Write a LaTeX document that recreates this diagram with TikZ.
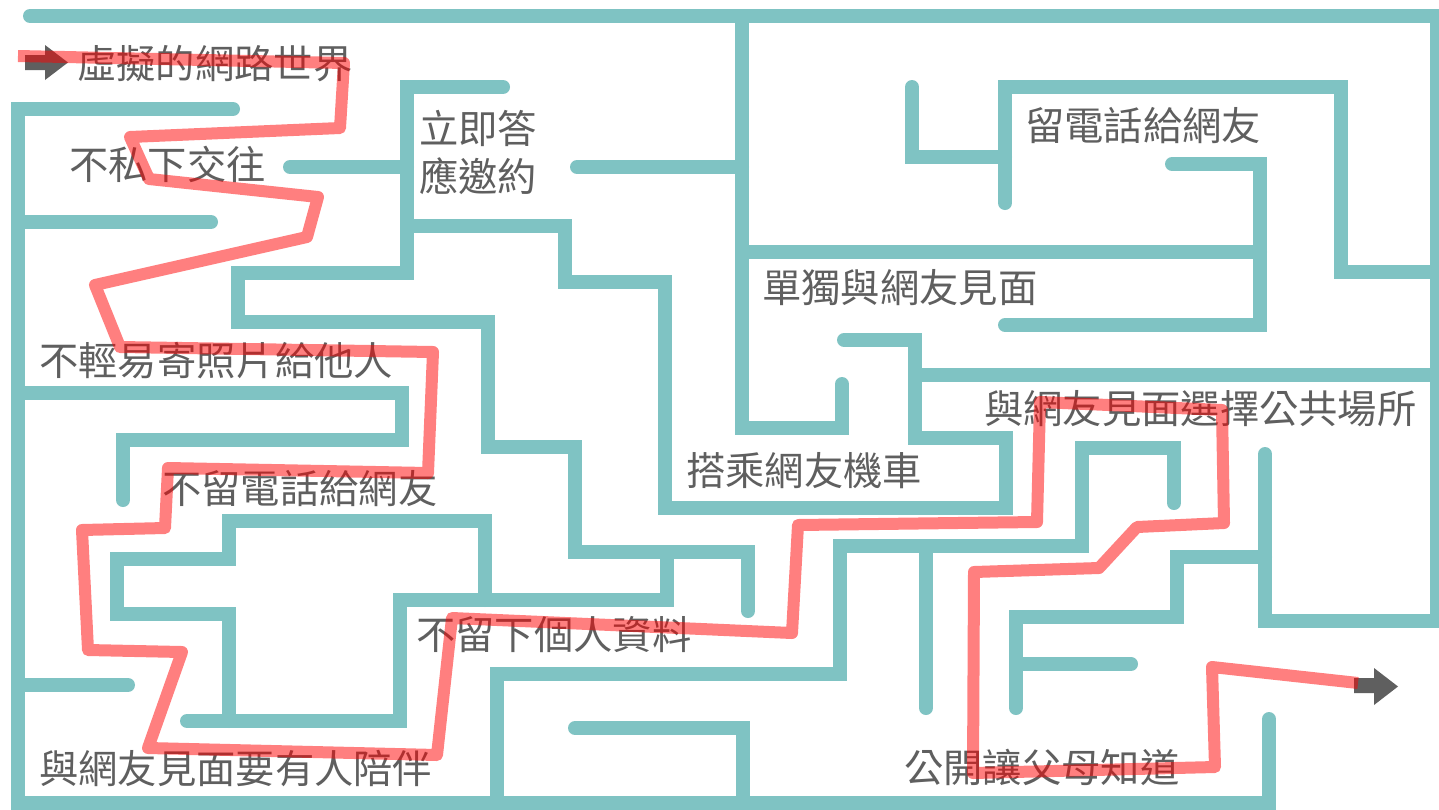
\documentclass[tikz,border=0pt]{standalone}
\usepackage{fontspec}
\newfontfamily\cjk{Noto Sans CJK TC}
\definecolor{wallc}{RGB}{127,195,195}
\definecolor{txtc}{RGB}{95,95,95}
\begin{document}
\begin{tikzpicture}[x=1pt,y=-1pt,
  wall/.style={draw=wallc,line width=14pt,line cap=round,line join=miter},
  lbl/.style={anchor=base west,inner sep=0pt,text=txtc,font=\cjk\fontsize{39.3}{48}\selectfont},
  route/.style={draw=red,draw opacity=0.5,line width=12pt,line join=round},
  arr/.style={fill=txtc,draw=none}]
\useasboundingbox (0,0) rectangle (1439,809);
\fill[white] (0,0) rectangle (1439,809);

% outer border
\draw[wall] (30,16) -- (1437,16) -- (1437,621) -- (1265,621) -- (1265,454);
\draw[wall] (233,109) -- (18,109) -- (18,803) -- (1269,803) -- (1269,719);
% left stubs
\draw[wall] (18,222) -- (211,222);
\draw[wall] (18,393) -- (402,393) -- (402,440) -- (123,440) -- (123,500);
\draw[wall] (18,685) -- (128,685);
\draw[wall] (290,167) -- (407,167);
% central structure
\draw[wall] (503,87) -- (407,87) -- (407,273) -- (238,273) -- (238,322) -- (488,322) -- (488,447) -- (575,447) -- (575,552) -- (748,552) -- (748,611);
\draw[wall] (667,552) -- (667,600) -- (400,600) -- (400,721) -- (187,721);
\draw[wall] (485,600) -- (485,521) -- (229,521) -- (229,559) -- (117,559) -- (117,614) -- (229,614) -- (229,721);
\draw[wall] (407,226) -- (565,226) -- (565,282) -- (665,282) -- (665,508) -- (1006,508) -- (1006,438) -- (915,438) -- (915,340) -- (844,340);
\draw[wall] (577,167) -- (742,167);
\draw[wall] (742,16) -- (742,428) -- (842,428) -- (842,384);
% upper right
\draw[wall] (742,252) -- (1260,252);
\draw[wall] (1172,164) -- (1260,164) -- (1260,325) -- (1005,325);
\draw[wall] (912,87) -- (912,157) -- (1005,157);
\draw[wall] (1005,203) -- (1005,87) -- (1341,87) -- (1341,272) -- (1437,272);
\draw[wall] (915,375) -- (1437,375);
% lower right
\draw[wall] (1174,503) -- (1174,448) -- (1082,448) -- (1082,546) -- (840,546) -- (840,674) -- (497,674) -- (497,803);
\draw[wall] (926,546) -- (926,708);
\draw[wall] (575,728) -- (743,728) -- (743,803);
\draw[wall] (1265,557) -- (1177,557) -- (1177,617) -- (1016,617) -- (1016,708);
\draw[wall] (1016,664) -- (1131,664);

% labels
\node[lbl] (t1) at (77,78) {虛擬的網路世界};
\node[lbl] (t2) at (69,179) {不私下交往};
\node[lbl] (t3a) at (419,143) {立即答};
\node[lbl] (t3b) at (419,191) {應邀約};
\node[lbl] (t4) at (1025,140) {留電話給網友};
\node[lbl] (t5) at (762,302) {單獨與網友見面};
\node[lbl] (t6) at (39,375) {不輕易寄照片給他人};
\node[lbl] (t7) at (162,503) {不留電話給網友};
\node[lbl] (t8) at (686,485) {搭乘網友機車};
\node[lbl] (t9) at (984,423) {與網友見面選擇公共場所};
\node[lbl] (t10) at (416,649) {不留下個人資料};
\node[lbl] (t11) at (39,783) {與網友見面要有人陪伴};
\node[lbl] (t12) at (904,782) {公開讓父母知道};

% arrows
\fill[arr] (25,55) -- (45,55) -- (45,45) -- (68,62.5) -- (45,80) -- (45,70) -- (25,70) -- cycle;
\fill[arr] (1354,678) -- (1374,678) -- (1374,668) -- (1398,686.5) -- (1374,705) -- (1374,693) -- (1354,693) -- cycle;

% route
\draw[route] (18,56) -- (344,63) -- (340,128) -- (130,137) -- (149,179) -- (318,197) -- (307,237)
  -- (95,285) -- (120,347) -- (433,352) -- (428,473) -- (168,468) -- (165,528) -- (82,530)
  -- (88,650) -- (182,652) -- (148,748) -- (437,755) -- (452,618) -- (792,633) -- (798,525)
  -- (1037,522) -- (1040,402) -- (1222,410) -- (1224,523) -- (1137,527) -- (1099,568)
  -- (974,572) -- (973,773) -- (1215,767) -- (1212,667) -- (1358,683);
\end{tikzpicture}
\end{document}
